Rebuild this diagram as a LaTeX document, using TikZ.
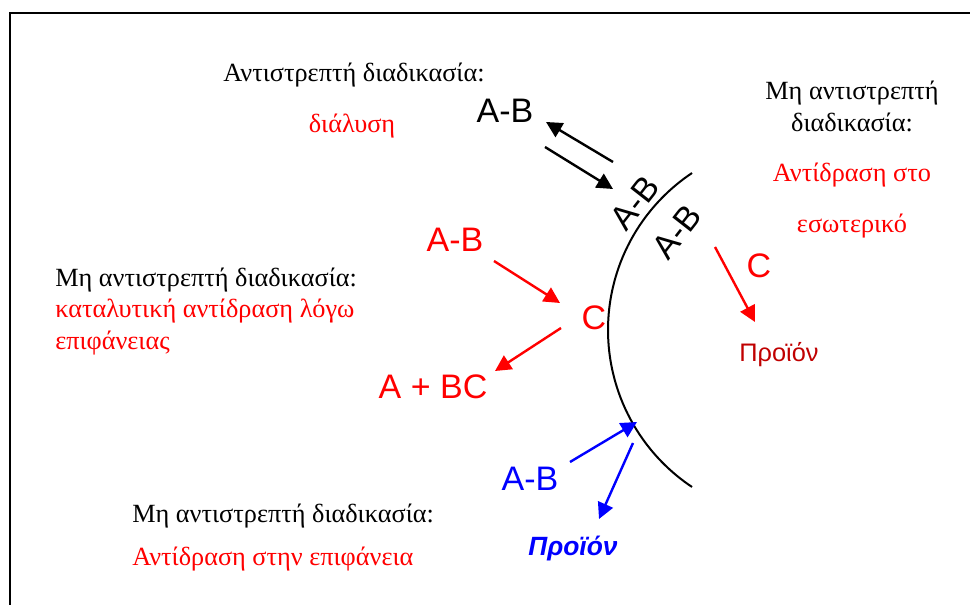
\documentclass[tikz,border=0pt]{standalone}
\usepackage{fontspec}
\setmainfont{Liberation Serif}
\setsansfont{Liberation Sans}
\usetikzlibrary{arrows.meta}
\definecolor{prodred}{RGB}{192,0,0}

\begin{document}
\begin{tikzpicture}[x=0.75pt, y=-0.75pt, >={Triangle[length=12pt,width=12pt]},
  txt/.style={font=\rmfamily\fontsize{19.7}{24}\selectfont, inner sep=0pt},
  chem/.style={font=\sffamily\fontsize{25.5}{28}\selectfont, inner sep=0pt},
  arr/.style={->, line width=1.8pt}]
  \useasboundingbox (0,0) rectangle (970,605);
  \draw[line width=1.5pt] (10,605) -- (10,13) -- (970,13);

  % surface
  \draw[line width=1.5pt] plot[domain=-56.3:56.3, samples=80]
    ({796.7-188.7*cos(\x)}, {330+188.7*sin(\x)});

  % reversible: dissolution
  \node[txt, anchor=base] (revTitle) at (354,82) {Αντιστρεπτή διαδικασία:};
  \node[txt, anchor=base, red] (revNote) at (352,133) {διάλυση};
  \node[chem, anchor=base] (abOut) at (505,123) {A-B};
  \node[chem, rotate=52] (abIn1) at (635,203) {A-B};
  \node[chem, rotate=52] (abIn2) at (677,232) {A-B};
  \coordinate (revA) at (613,162);
  \coordinate (revB) at (546,122);
  \coordinate (revC) at (545,147);
  \coordinate (revD) at (613,189);
  \draw[arr] (revA) -- (revB);
  \draw[arr] (revC) -- (revD);

  % irreversible: reaction inside
  \node[txt, anchor=base, align=center] (irrTitle) at (852,132)
    {Μη αντιστρεπτή\\διαδικασία:};
  \node[txt, anchor=base, red] (irrNote1) at (852,182) {Αντίδραση στο};
  \node[txt, anchor=base, red] (irrNote2) at (852,233) {εσωτερικό};
  \node[chem, anchor=base, red] (cOut) at (759,278) {C};
  \node[chem, anchor=base, prodred, font=\sffamily\fontsize{19}{22}\selectfont] (prodR) at (779,362) {Προϊόν};
  \coordinate (inA) at (715,247);
  \coordinate (inB) at (755,322);
  \draw[arr, red] (inA) -- (inB);

  % irreversible: catalytic reaction
  \node[txt, anchor=base west] (catTitle) at (55,287) {Μη αντιστρεπτή διαδικασία:};
  \node[txt, anchor=base west, red, align=left] (catNote) at (55,350)
    {καταλυτική αντίδραση λόγω\\επιφάνειας};
  \node[chem, anchor=base, red] (abCat) at (455,252) {A-B};
  \node[chem, anchor=base, red] (cCat) at (594,330) {C};
  \node[chem, anchor=base, red] (abcCat) at (433,398) {A + BC};
  \coordinate (catA) at (494,261);
  \coordinate (catB) at (560,303);
  \coordinate (catC) at (561,328);
  \coordinate (catD) at (495,371);
  \draw[arr, red] (catA) -- (catB);
  \draw[arr, red] (catC) -- (catD);

  % irreversible: surface reaction
  \node[txt, anchor=base west] (surfTitle) at (132,522) {Μη αντιστρεπτή διαδικασία:};
  \node[txt, anchor=base west, red] (surfNote) at (132,565) {Αντίδραση στην επιφάνεια};
  \node[chem, anchor=base, blue] (abSurf) at (530,490) {A-B};
  \node[anchor=base, blue, inner sep=0pt, font=\sffamily\bfseries\itshape\fontsize{19.8}{22}\selectfont] (prodSurf) at (573,555) {Προϊόν};
  \coordinate (surfA) at (570,462);
  \coordinate (surfB) at (637,422);
  \coordinate (surfC) at (633,443);
  \coordinate (surfD) at (599,519);
  \draw[arr, blue] (surfA) -- (surfB);
  \draw[arr, blue] (surfC) -- (surfD);
\end{tikzpicture}
\end{document}
